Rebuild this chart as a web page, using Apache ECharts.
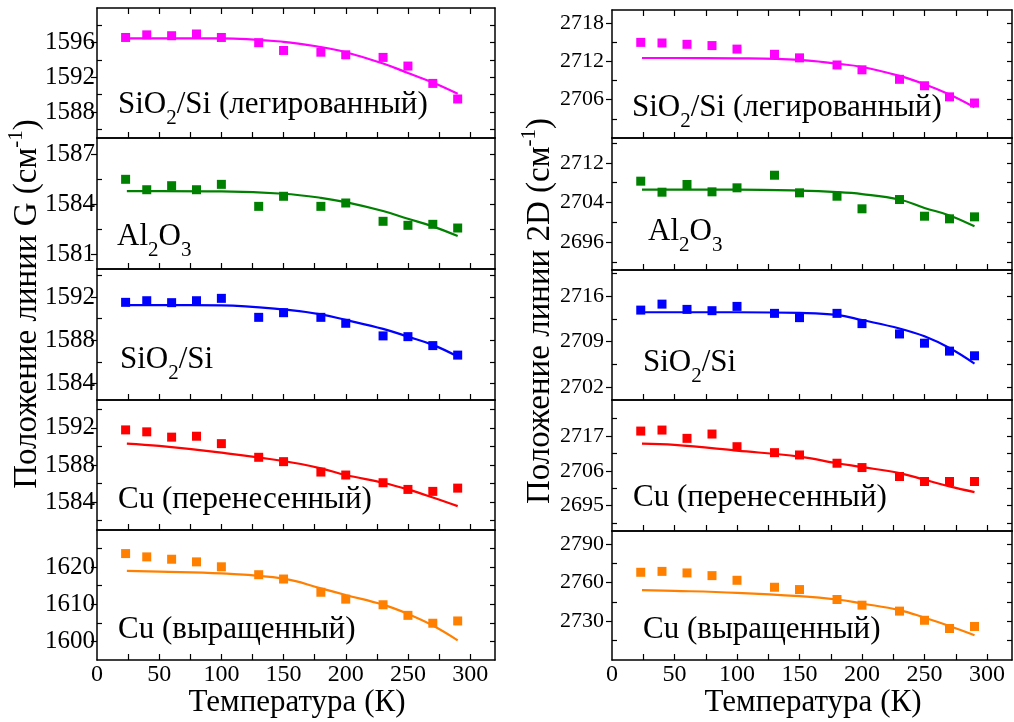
<!DOCTYPE html>
<html><head><meta charset="utf-8">
<script src="https://cdn.jsdelivr.net/npm/echarts@6/dist/echarts.min.js"></script>
<style>html,body{margin:0;padding:0;background:#fff}#c{width:1014px;height:722px}</style>
</head><body><div id="c"></div>
<script>
// ---- data ----
const T = [23, 40, 60, 80, 100, 130, 150, 180, 200, 230, 250, 270, 290];
const fitT = [24, 50, 100, 150, 180, 200, 230, 250, 270, 290];

const gDoped    = [1596.6, 1596.9, 1596.8, 1597.0, 1596.6, 1596.0, 1595.1, 1594.9, 1594.6, 1594.3, 1593.3, 1591.3, 1589.5];
const gDopedFit = [1596.5, 1596.5, 1596.5, 1596.1, 1595.5, 1594.9, 1593.6, 1592.5, 1591.4, 1590.1];
const gAl       = [1585.49, 1584.87, 1585.11, 1584.87, 1585.19, 1583.88, 1584.48, 1583.88, 1584.08, 1582.99, 1582.75, 1582.81, 1582.59];
const gAlFit    = [1584.79, 1584.79, 1584.77, 1584.63, 1584.39, 1584.13, 1583.6, 1583.14, 1582.69, 1582.11];
const gSi       = [1591.51, 1591.66, 1591.48, 1591.66, 1591.88, 1590.12, 1590.55, 1590.12, 1589.57, 1588.4, 1588.33, 1587.5, 1586.62];
const gSiFit    = [1591.26, 1591.26, 1591.23, 1590.86, 1590.4, 1589.88, 1589.05, 1588.33, 1587.57, 1586.49];
const gCuTr     = [1591.78, 1591.57, 1591.0, 1591.1, 1590.3, 1588.83, 1588.36, 1587.24, 1586.92, 1586.09, 1585.37, 1585.16, 1585.51];
const gCuTrFit  = [1590.3, 1590.05, 1589.33, 1588.43, 1587.64, 1586.92, 1586.09, 1585.37, 1584.5, 1583.57];
const gCuGr     = [1623.65, 1622.76, 1622.13, 1621.42, 1620.09, 1617.96, 1616.8, 1613.24, 1611.38, 1609.87, 1607.02, 1604.9, 1605.51];
const gCuGrFit  = [1619.0, 1618.8, 1618.3, 1616.9, 1614.3, 1612.5, 1609.9, 1607.4, 1604.3, 1600.3];

const dDoped    = [2714.94, 2714.85, 2714.64, 2714.44, 2713.89, 2713.08, 2712.52, 2711.41, 2710.65, 2709.17, 2708.16, 2706.43, 2705.47];
const dDopedFit = [2712.5, 2712.5, 2712.45, 2712.2, 2711.6, 2711.1, 2709.7, 2708.4, 2706.8, 2704.8];
const dAl       = [2708.3, 2706.08, 2707.63, 2706.15, 2706.96, 2709.5, 2705.95, 2705.27, 2702.73, 2704.6, 2701.24, 2700.71, 2701.11];
const dAlFit    = [2706.6, 2706.6, 2706.6, 2706.4, 2706.1, 2705.7, 2704.6, 2702.9, 2701.4, 2699.2];
const dSi       = [2713.83, 2714.75, 2713.94, 2713.74, 2714.4, 2713.33, 2712.67, 2713.33, 2711.75, 2710.16, 2708.74, 2707.52, 2706.8];
const dSiFit    = [2713.5, 2713.5, 2713.5, 2713.4, 2713.1, 2712.3, 2711.0, 2709.8, 2708.0, 2705.6];
const dCuTr     = [2718.58, 2718.9, 2716.28, 2717.64, 2713.64, 2711.76, 2711.03, 2708.42, 2707.05, 2704.22, 2702.64, 2702.64, 2702.64];
const dCuTrFit  = [2714.6, 2714.2, 2712.4, 2710.5, 2708.4, 2707.2, 2705.3, 2703.2, 2701.1, 2699.3];
const dCuGr     = [2768.0, 2768.7, 2767.5, 2765.4, 2761.8, 2756.4, 2754.6, 2746.9, 2742.5, 2737.9, 2730.8, 2724.4, 2726.0];
const dCuGrFit  = [2754.1, 2753.6, 2752.1, 2749.5, 2746.9, 2743.8, 2738.7, 2732.8, 2726.4, 2719.2];

// tick labels
const xLabels = [0, 50, 100, 150, 200, 250, 300];
const xTickVals = [25, 50, 75, 100, 125, 150, 175, 200, 225, 250, 275, 300];
const gDopedTicks = [1588, 1592, 1596], gDopedMinor = [1586, 1590, 1594, 1598];
const gAlTicks = [1581, 1584, 1587],    gAlMinor = [1582.5, 1585.5];
const gSiTicks = [1584, 1588, 1592],    gSiMinor = [1586, 1590, 1594];
const gCuTrTicks = [1584, 1588, 1592],  gCuTrMinor = [1582, 1586, 1590, 1594];
const gCuGrTicks = [1600, 1610, 1620],  gCuGrMinor = [1605, 1615, 1625];
const dDopedTicks = [2706, 2712, 2718], dDopedMinor = [2703, 2709, 2715];
const dAlTicks = [2696, 2704, 2712],    dAlMinor = [2692, 2700, 2708, 2716];
const dSiTicks = [2702, 2709, 2716],    dSiMinor = [2705.5, 2712.5, 2719.5];
const dCuTrTicks = [2695, 2706, 2717],  dCuTrMinor = [2689.5, 2700.5, 2711.5, 2722.5];
const dCuGrTicks = [2730, 2760, 2790],  dCuGrMinor = [2715, 2745, 2775];

const labels = ['SiO{s|2}/Si (легированный)', 'Al{s|2}O{s|3}', 'SiO{s|2}/Si', 'Cu (перенесенный)', 'Cu (выращенный)'];
const xTitle = 'Температура (К)';
const yTitleG = 'Положение линии G (см{p|-1})';
const yTitle2D = 'Положение линии 2D (см{p|-1})';

// ---- layout ----
const FONT = '"Liberation Serif", "Times New Roman", serif';
const colors = ['#ff00ff', '#008000', '#0000ff', '#ff0000', '#ff8000'];
const colLeft = [97, 612], colWidth = [398, 400];
const rowTops = [[8, 138, 269, 400, 530], [10, 138, 270, 400, 531]];
const rowBots = [[138, 269, 400, 530, 660], [138, 270, 400, 531, 660]];
const yLabFont = [25, 22], yLabMargin = [2, 8];

const panels = [
  [gDoped, gDopedFit, 1585, 1600, gDopedTicks, gDopedMinor, 118, 105],
  [gAl, gAlFit, 1580.15, 1587.95, gAlTicks, gAlMinor, 117, 237],
  [gSi, gSiFit, 1582.46, 1594.6, gSiTicks, gSiMinor, 120, 360],
  [gCuTr, gCuTrFit, 1581, 1595, gCuTrTicks, gCuTrMinor, 118, 500],
  [gCuGr, gCuGrFit, 1595, 1630, gCuGrTicks, gCuGrMinor, 118, 630],
  [dDoped, dDopedFit, 2700, 2720, dDopedTicks, dDopedMinor, 632, 108],
  [dAl, dAlFit, 2690.4, 2717, dAlTicks, dAlMinor, 648, 232],
  [dSi, dSiFit, 2700, 2720, dSiTicks, dSiMinor, 643, 363],
  [dCuTr, dCuTrFit, 2687, 2728.4, dCuTrTicks, dCuTrMinor, 633, 498],
  [dCuGr, dCuGrFit, 2700, 2800, dCuGrTicks, dCuGrMinor, 643, 630]
];

const line = {color: '#000', width: 1.5};
const tickLine = {color: '#000', width: 1.2};
const plain = v => String(v);
const grid = [], xAxis = [], yAxis = [], series = [], graphic = [];

panels.forEach((p, i) => {
  const col = i < 5 ? 0 : 1, row = i % 5;
  const [vals, fit, ymin, ymax, major, minor, lx, ly] = p;
  const rect = {left: colLeft[col], top: rowTops[col][row], width: colWidth[col], height: rowBots[col][row] - rowTops[col][row]};
  const gA = grid.length; grid.push(Object.assign({}, rect));
  const gB = grid.length; grid.push(Object.assign({}, rect));
  const xb = xAxis.length;
  xAxis.push({gridIndex: gA, type: 'value', min: 0, max: 320, position: 'bottom',
    axisLine: {show: true, onZero: false, lineStyle: line},
    axisTick: {show: true, inside: true, length: 6, customValues: xTickVals, lineStyle: tickLine},
    axisLabel: {show: row === 4, customValues: xLabels, formatter: plain, fontSize: 24, fontFamily: FONT, color: '#000', margin: 3},
    splitLine: {show: false}});
  xAxis.push({gridIndex: gA, type: 'value', min: 0, max: 320, position: 'top',
    axisLine: {show: true, onZero: false, lineStyle: line},
    axisTick: {show: row === 0, inside: true, length: 6, customValues: xTickVals, lineStyle: tickLine},
    axisLabel: {show: false}, splitLine: {show: false}});
  const yl = yAxis.length;
  yAxis.push({gridIndex: gA, type: 'value', min: ymin, max: ymax, position: 'left',
    axisLine: {show: true, onZero: false, lineStyle: line},
    axisTick: {show: true, inside: false, length: 6, customValues: major, lineStyle: tickLine},
    axisLabel: {show: true, customValues: major, formatter: plain, fontSize: yLabFont[col], fontFamily: FONT, color: '#000', margin: yLabMargin[col]},
    splitLine: {show: false}});
  yAxis.push({gridIndex: gA, type: 'value', min: ymin, max: ymax, position: 'right',
    axisLine: {show: true, onZero: false, lineStyle: line},
    axisTick: {show: true, inside: true, length: 5, customValues: major.concat(minor), lineStyle: tickLine},
    axisLabel: {show: false}, splitLine: {show: false}});
  xAxis.push({gridIndex: gB, type: 'value', min: 0, max: 320, show: false});
  yAxis.push({gridIndex: gB, type: 'value', min: ymin, max: ymax, position: 'left',
    axisLine: {show: false},
    axisTick: {show: true, inside: true, length: 5, customValues: minor, lineStyle: tickLine},
    axisLabel: {show: false}, splitLine: {show: false}});

  series.push({type: 'line', xAxisIndex: xb, yAxisIndex: yl, smooth: 0.4, showSymbol: false, silent: true,
    data: fitT.map((t, k) => [t, fit[k]]), lineStyle: {color: colors[row], width: 2.2}, z: 2});
  series.push({type: 'scatter', xAxisIndex: xb, yAxisIndex: yl, symbol: 'rect', symbolSize: 9,
    data: T.map((t, k) => [t, vals[k]]), itemStyle: {color: colors[row], opacity: 1}, z: 3});

  graphic.push({type: 'text', x: lx, y: ly, z: 10, style: {
    text: labels[row], fill: '#000', fontSize: 31, fontFamily: FONT, align: 'left', verticalAlign: 'middle',
    rich: {s: {fontSize: 21, fontFamily: FONT, fill: '#000', padding: [26, 0, 0, 0]}}}});
});

[[297, 703], [813, 703]].forEach(([x, y]) => graphic.push({type: 'text', x, y, z: 10,
  style: {text: xTitle, fill: '#000', fontSize: 31, fontFamily: FONT, align: 'center', verticalAlign: 'middle'}}));
[[27, 304, yTitleG], [540, 311, yTitle2D]].forEach(([x, y, t]) => graphic.push({type: 'text', x, y, z: 10,
  rotation: Math.PI / 2,
  style: {text: t, fill: '#000', fontSize: 33, fontFamily: FONT, align: 'center', verticalAlign: 'middle',
    rich: {p: {fontSize: 21, fontFamily: FONT, fill: '#000', padding: [0, 0, 22, 0]}}}}));

const chart = echarts.init(document.getElementById('c'), null, {renderer: 'canvas'});
chart.setOption({animation: false, backgroundColor: '#fff', grid, xAxis, yAxis, series, graphic});
</script></body></html>
